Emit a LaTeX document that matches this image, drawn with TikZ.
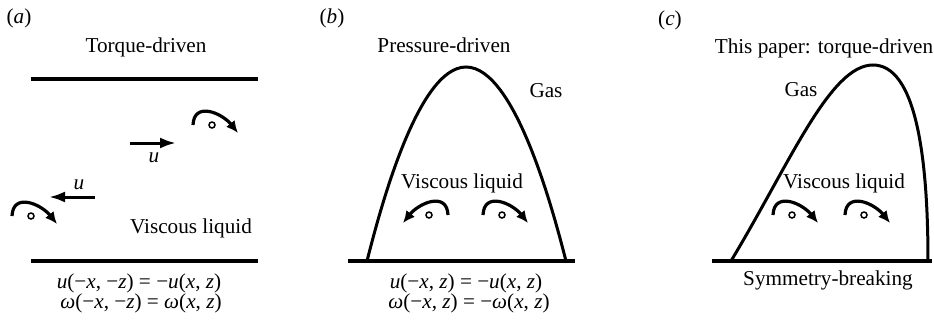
\documentclass[tikz,border=0pt]{standalone}
\usepackage{fontspec}
\setmainfont{Liberation Serif}
\usetikzlibrary{arrows.meta}

\begin{document}
\begin{tikzpicture}[
  x=0.5pt, y=0.5pt,
  every node/.style={font=\fontsize{10.6}{12.7}\selectfont, inner sep=0pt},
  wall/.style={line width=1.6pt},
  interface/.style={line width=1.5pt},
  flowarrow/.style={-{Latex[length=8pt,width=5.5pt]}, line width=1.5pt},
  spinarrow/.style={-{Latex[length=6pt,width=5.5pt]}, line width=1.6pt},
  txt/.style={anchor=base},
  spin/.pic={
    \draw[spinarrow] (-19,0) .. controls (-18,24) and (10,12) .. (26,-8);
    \draw[line width=0.75pt] (0,0) circle[radius=3];
  },
]
  \useasboundingbox (0,0) rectangle (934,323);

  % (a) torque-driven, two walls
  \node (la) at (19,305) {(\textit{a})};
  \node[txt] (ta) at (146,271) {Torque-driven};
  \coordinate (wtl) at (31,244);
  \coordinate (wtr) at (258,244);
  \coordinate (wbl) at (31,62);
  \coordinate (wbr) at (258,62);
  \draw[wall] (wtl) -- (wtr);
  \draw[wall] (wbl) -- (wbr);
  \coordinate (ur0) at (130,180);
  \coordinate (ur1) at (176,180);
  \draw[flowarrow] (ur0) -- (ur1);
  \node[txt] (ura) at (154,161) {\textit{u}};
  \coordinate (ul0) at (95,126);
  \coordinate (ul1) at (49,126);
  \draw[flowarrow] (ul0) -- (ul1);
  \node[txt] (ula) at (79,134) {\textit{u}};
  \pic at (212,198) {spin};
  \pic at (31,107) {spin};
  \node[txt] (va) at (191,90) {Viscous liquid};
  \node[txt] (ea1) at (139,35) {\textit{u}(−\textit{x}, −\textit{z}) = −\textit{u}(\textit{x}, \textit{z})};
  \node[txt] (ea2) at (141,15) {\textit{ω}(−\textit{x}, −\textit{z}) = \textit{ω}(\textit{x}, \textit{z})};

  % (b) pressure-driven
  \node (lb) at (332,305) {(\textit{b})};
  \node[txt] (tb) at (444,271) {Pressure-driven};
  \coordinate (bbl) at (348,62);
  \coordinate (bbr) at (575,62);
  \draw[wall] (bbl) -- (bbr);
  \draw[interface] (367,62) parabola bend (466,256) (566,62);
  \node[txt] (gb) at (546,226) {Gas};
  \node[txt] (vb) at (462,135) {Viscous liquid};
  \pic[xscale=-1] at (429,108) {spin};
  \pic at (502,108) {spin};
  \node[txt] (eb1) at (466,35) {\textit{u}(−\textit{x}, \textit{z}) = −\textit{u}(\textit{x}, \textit{z})};
  \node[txt] (eb2) at (469,15) {\textit{ω}(−\textit{x}, \textit{z}) = −\textit{ω}(\textit{x}, \textit{z})};

  % (c) this paper
  \node (lc) at (670,303) {(\textit{c})};
  \node[txt] (tc) at (824,270) {This paper: torque-driven};
  \coordinate (cbl) at (712,62);
  \coordinate (cbr) at (932,62);
  \draw[wall] (cbl) -- (cbr);
  \draw[interface] (731,62) .. controls (790,160) and (830,258) .. (873,258)
    .. controls (915,258) and (928,170) .. (928,62);
  \node[txt] (gc) at (801,227) {Gas};
  \node[txt] (vc) at (844,135) {Viscous liquid};
  \pic at (792,108) {spin};
  \pic at (864,108) {spin};
  \node[txt] (sc) at (828,38) {Symmetry-breaking};
\end{tikzpicture}
\end{document}
